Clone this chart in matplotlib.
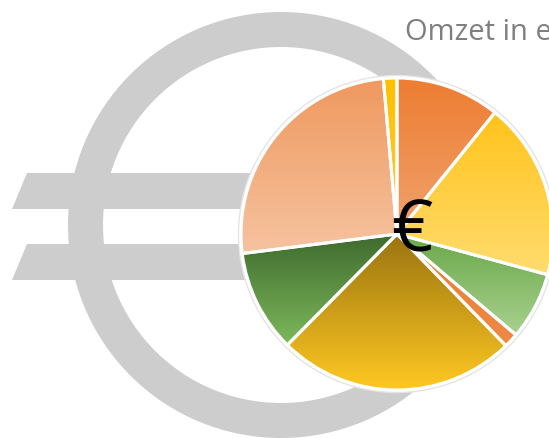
# omzet pie on top of a big euro sign
import numpy as np
import matplotlib
matplotlib.use('Agg')
import matplotlib.pyplot as plt
from matplotlib.colors import LinearSegmentedColormap
from matplotlib.patches import Circle, Polygon, Wedge

# Shares, in percent, clockwise from the top
shares = [10.8, 18.4, 7.0, 1.5, 24.7, 10.6, 25.6, 1.4]
top_colors = ['#ED7D31', '#FFC31A', '#6AA84A', '#ED7D31', '#9A7410', '#3F6A2D', '#EF995F', '#FFC000']
bottom_colors = ['#F0A26E', '#FFDC70', '#A9D18E', '#ED8A45', '#FFC822', '#7DB95C', '#F6C3A0', '#FFCB3A']
title = "Omzet in euro's"
symbol = '€'

GREY = '#CDCDCD'
H = 439

def flip(y):
    return H - y

fig = plt.figure(figsize=(5.49, 4.39), dpi=100)
ax = fig.add_axes([0, 0, 1, 1])

# Background euro sign
ax.add_patch(Wedge((281, flip(226)), 213, 0, 360, width=35, color=GREY, lw=0, zorder=1))
for y0, y1 in [(174, 210), (245, 281)]:
    ax.add_patch(Polygon([(27, flip(y0)), (260, flip(y0)), (260, flip(y1)), (12, flip(y1))],
                         color=GREY, lw=0, zorder=1))

# Pie, the wedges only carry the white borders
cx, cy, r = 397, flip(235), 156
ax.add_patch(Circle((cx, cy), r + 2.5, fc='white', ec='#E4E4E4', lw=1, zorder=2))
wedges, _ = ax.pie(shares, center=(cx, cy), radius=r, startangle=90, counterclock=False, frame=True,
                   wedgeprops={'facecolor': 'none', 'edgecolor': 'white', 'linewidth': 2.2, 'zorder': 4})

# Each slice has a vertical gradient over its own box
ramp = np.linspace(0, 1, 256).reshape(-1, 1)
for w, c1, c2 in zip(wedges, top_colors, bottom_colors):
    box = w.get_path().get_extents()
    cmap = LinearSegmentedColormap.from_list('slice', [c1, c2])
    im = ax.imshow(ramp, cmap=cmap, aspect='auto', origin='upper', zorder=3,
                   extent=(box.x0, box.x1, box.y0, box.y1), interpolation='bilinear')
    im.set_clip_path(w.get_path(), transform=ax.transData)

ax.text(412, flip(233), symbol, fontsize=52, family='Open Sans', color='black',
        ha='center', va='center', zorder=5)
ax.text(405, flip(40), title, fontsize=21, family='Open Sans', color='#7F7F7F', ha='left', va='baseline', zorder=5)

ax.set_xlim(0, 549)
ax.set_ylim(0, H)
ax.axis('off')

fig.savefig('out.png', dpi=100)
